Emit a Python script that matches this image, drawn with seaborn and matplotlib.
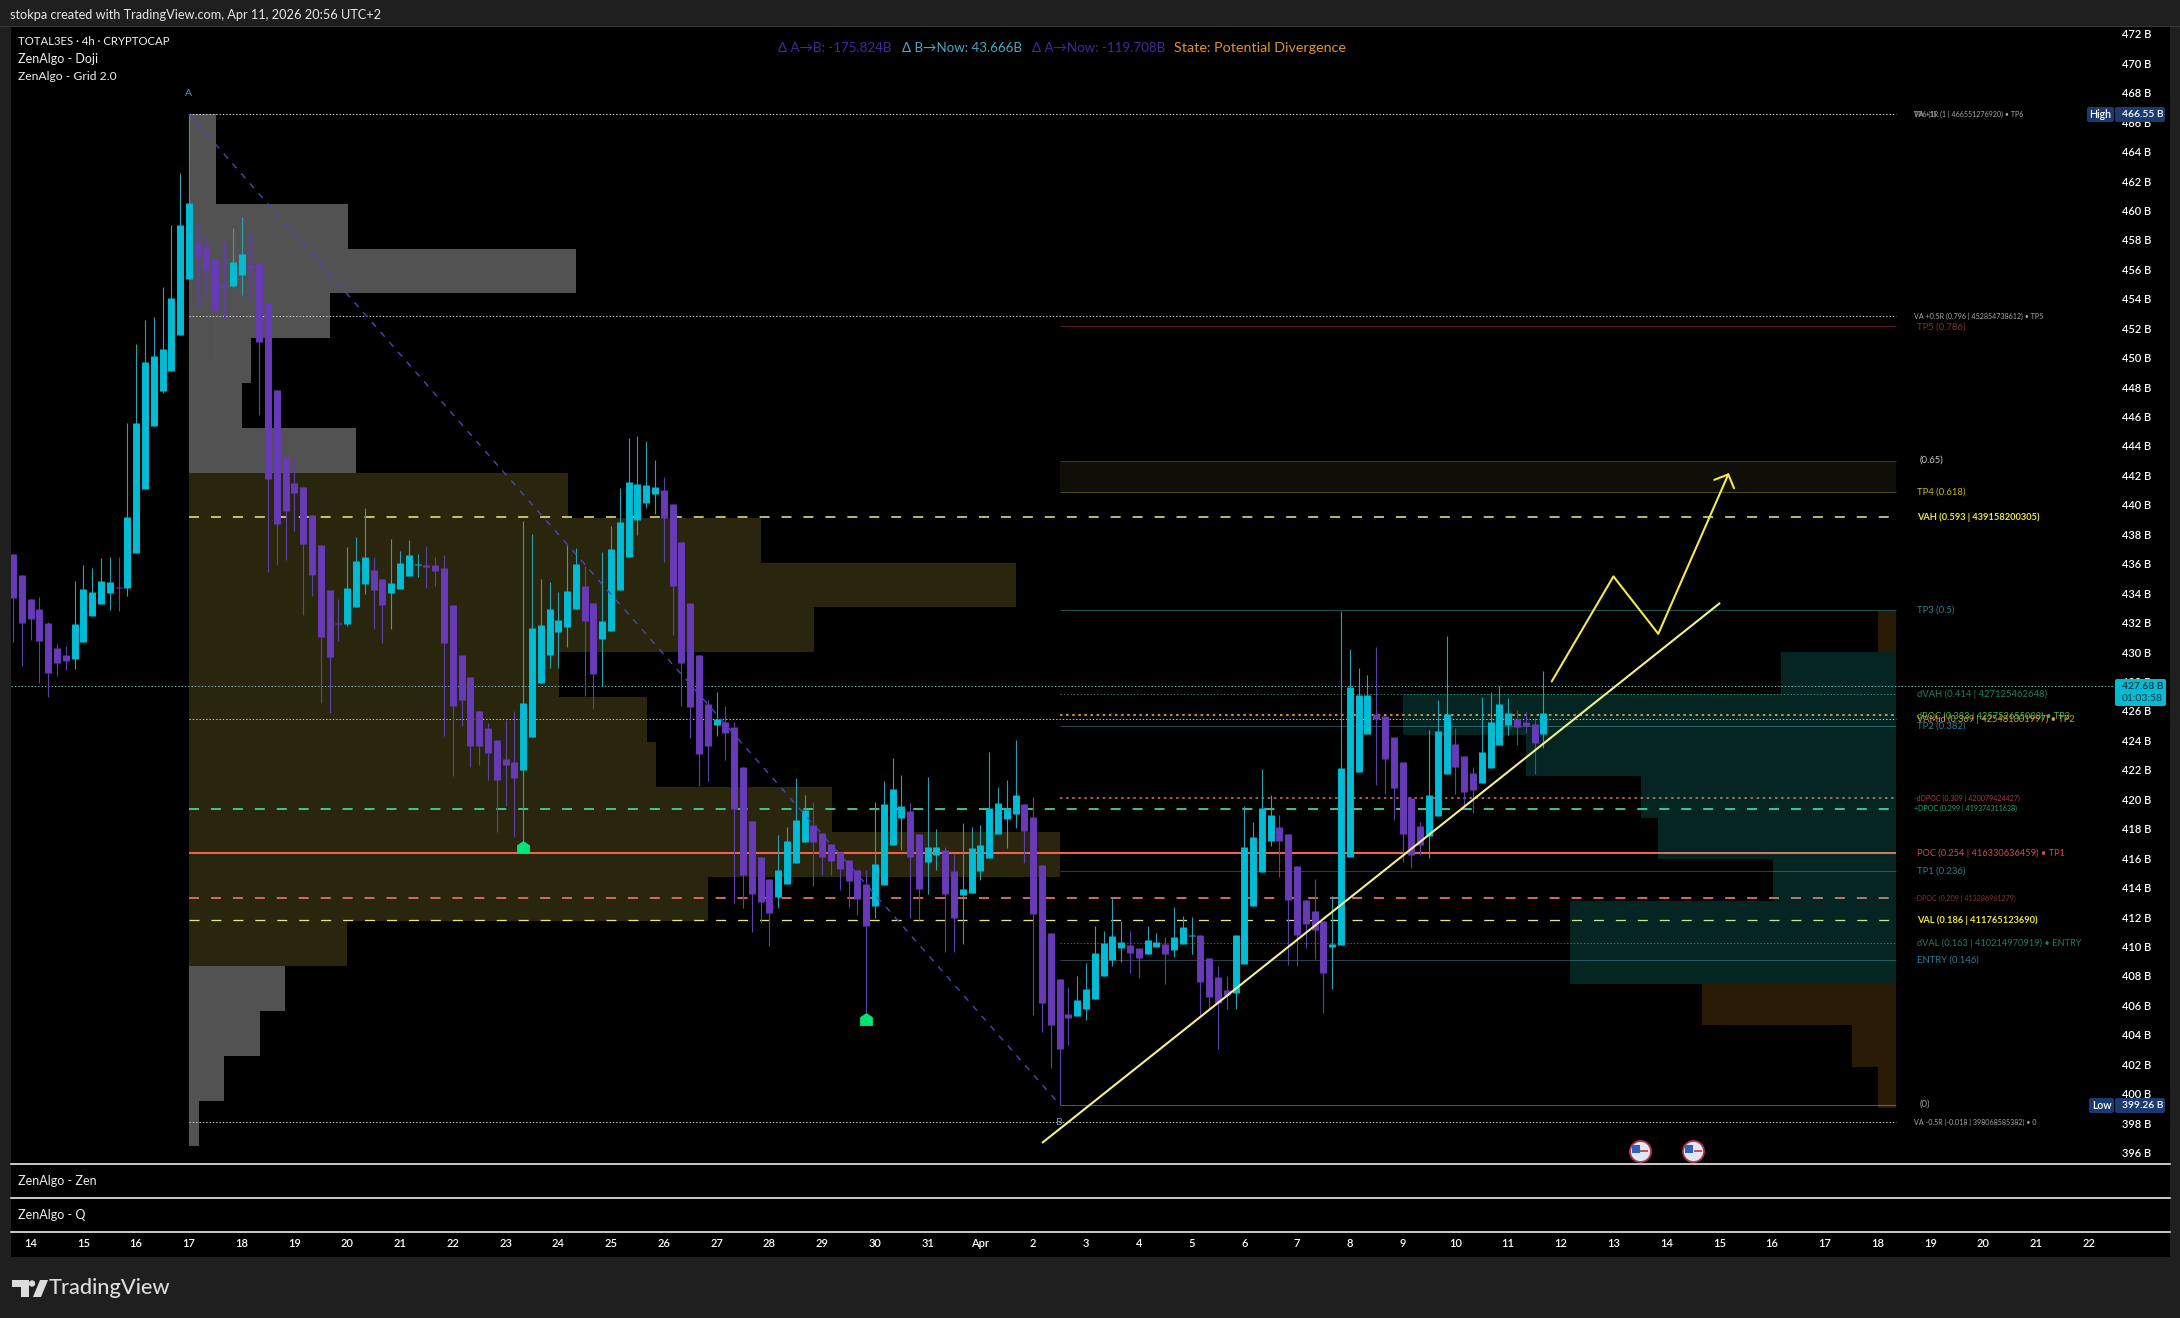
import numpy as np
import pandas as pd
import matplotlib
matplotlib.use("Agg")
import matplotlib.pyplot as plt
from matplotlib.patches import Rectangle, FancyBboxPatch, Polygon, Circle
import seaborn as sns

# ---------------- data (prices in billions, x in 4h candles from 14 Mar 00:00) ----------------
first_candle = -2
opens = [436.67,435.24,433.61,432.93,431.96,430.28,429.81,429.54,430.71,432.46,
         433.27,434.02,434.45,434.36,436.74,441.08,445.37,447.74,449.12,451.55,
         455.33,457.89,457.5,456.69,455.01,454.87,455.62,456.3,456.35,453.7,
         447.81,443.26,441.47,441.22,439.32,437.28,434.22,432.0,431.91,433.07,
         434.63,435.58,434.97,434.02,434.29,435.17,435.92,435.92,435.92,435.72,
         433.2,429.81,428.31,426.0,424.82,424.03,422.72,422.54,421.99,424.25,
         427.91,429.81,431.37,431.71,432.93,434.5,433.34,430.9,431.44,434.22,
         436.47,438.98,440.13,440.74,441.02,440.06,437.46,433.34,429.81,426.48,
         425.05,425.26,424.92,422.2,418.53,416.09,414.59,413.37,414.25,415.68,
         417.1,418.26,417.72,416.97,416.42,415.88,415.2,414.25,412.76,414.18,
         416.9,418.73,419.21,417.65,415.75,416.22,416.56,415.13,413.5,413.64,
         415.13,416.02,417.65,418.67,419.0,419.69,418.8,415.54,410.92,407.8,
         405.42,405.29,405.76,406.44,408.0,409.06,409.91,410.1,409.89,409.5,
         409.99,410.2,409.78,410.2,410.72,410.77,409.21,407.94,407.03,406.87,
         408.82,412.75,415.06,417.17,418.13,417.64,415.48,413.16,412.41,411.76,
         409.99,410.07,416.1,421.82,424.45,425.8,425.64,424.24,422.52,420.08,
         418.18,417.51,418.86,421.72,423.75,422.94,421.8,421.12,422.13,423.69,
         425.02,425.44,425.25,425.1,424.45]
highs = [436.67,435.24,433.61,433.77,432.07,430.56,430.42,434.84,435.92,435.72,
         436.4,436.46,436.46,445.54,450.94,452.57,452.75,454.83,459.02,462.57,
         466.55,459.13,458.34,456.69,457.95,458.81,459.58,458.45,456.35,453.7,
         447.81,443.26,443.05,441.22,439.32,437.28,434.22,433.61,437.14,437.82,
         439.79,436.46,434.97,437.69,436.87,437.62,436.67,437.21,436.46,436.6,
         433.2,429.81,428.31,426.0,425.16,424.03,425.39,426.0,438.91,438.03,
         434.97,434.77,434.09,437.28,437.08,435.85,433.34,436.8,438.57,441.15,
         444.55,444.68,444.34,443.05,441.9,440.06,437.46,433.34,429.81,426.75,
         427.3,426.35,425.28,422.2,418.53,416.09,414.59,417.58,418.1,421.43,
         420.3,419.78,417.72,416.97,416.42,415.88,415.2,415.2,419.8,421.25,
         422.81,421.65,419.73,417.65,421.52,417.99,416.76,416.29,418.39,418.12,
         418.26,423.19,420.84,421.31,424.03,419.69,420.14,415.54,410.92,407.8,
         407.26,408.0,408.89,411.4,411.06,413.32,411.76,411.03,409.89,411.42,
         410.9,410.64,412.67,412.1,412.02,410.77,409.21,408.64,408.0,410.77,
         419.51,418.47,422.08,420.26,418.96,417.64,415.48,413.16,414.57,411.76,
         413.4,432.77,430.22,428.92,428.45,430.32,425.64,424.24,422.52,420.08,
         418.47,424.71,426.71,431.08,424.81,422.94,422.16,426.94,427.28,427.67,
         426.89,426.06,425.93,425.54,428.71]
lows = [430.71,429.06,430.83,427.88,426.98,428.34,428.79,428.86,430.71,432.46,
        433.27,432.86,432.8,433.82,436.74,441.08,445.37,447.63,449.12,451.55,
        455.33,453.36,454.26,449.89,452.57,454.78,454.26,453.9,446.11,435.47,
        435.92,436.26,438.23,432.53,433.82,426.53,425.85,430.76,431.78,433.07,
        433.95,431.57,430.62,431.57,434.29,435.17,435.11,434.36,434.5,424.31,
        421.55,424.99,422.2,422.34,421.31,417.8,419.55,417.47,417.13,424.25,
        427.91,428.93,428.93,430.35,432.93,427.02,426.16,427.7,431.44,434.22,
        436.47,437.96,439.79,439.39,436.13,431.17,426.35,424.17,420.93,421.27,
        424.31,422.68,412.94,412.6,411.01,411.62,410.04,412.64,414.25,415.68,
        417.1,414.12,414.86,414.86,413.84,412.71,412.15,405.47,411.96,414.18,
        416.9,416.56,411.92,411.81,413.57,415.2,409.63,409.63,410.18,413.64,
        414.52,416.02,417.65,416.7,418.05,415.68,405.35,404.2,401.75,399.26,
        403.32,405.29,405.01,406.44,408.0,408.69,408.95,408.2,407.86,409.5,
        409.99,407.42,409.29,410.2,409.47,405.34,405.78,403.05,405.78,405.78,
        408.82,412.75,415.06,416.83,414.75,408.77,408.64,409.89,409.16,405.47,
        407.08,410.07,416.1,421.82,424.45,420.94,420.39,418.6,415.74,415.35,
        416.18,416.02,418.86,421.72,420.34,419.43,419.09,421.12,422.13,423.69,
        424.37,423.72,424.5,421.72,423.46]
closes = [433.64,432.0,432.25,430.76,428.56,429.29,429.42,431.91,434.29,434.09,
          434.84,434.77,434.36,439.18,445.57,449.71,450.12,450.6,454.06,459.02,
          460.51,456.87,455.96,453.24,454.78,456.5,457.05,456.07,451.03,441.76,
          438.71,439.59,440.81,437.33,435.24,431.03,429.69,431.91,434.36,436.19,
          436.46,434.22,433.2,434.7,436.06,436.6,435.97,435.79,435.51,430.6,
          426.35,426.75,423.63,423.63,423.17,421.31,422.33,421.45,426.55,431.64,
          431.85,432.93,432.19,434.16,435.99,432.12,428.52,432.12,437.0,438.84,
          441.56,441.42,441.35,441.22,439.11,434.5,429.27,426.28,423.09,423.63,
          425.42,424.51,419.34,414.86,413.57,413.03,412.28,415.2,417.17,418.6,
          419.28,417.1,416.09,415.81,415.27,414.46,413.23,411.4,415.61,419.69,
          420.7,419.55,416.09,413.91,416.76,416.76,413.57,411.94,413.91,416.7,
          416.9,419.41,419.75,419.41,420.3,417.85,412.21,406.17,404.67,403.05,
          405.15,406.37,407.12,409.56,410.23,410.72,410.3,409.55,409.21,410.43,
          410.3,409.5,410.62,411.32,410.77,407.57,406.56,406.17,406.69,410.77,
          416.75,417.43,419.4,418.94,417.17,413.16,410.77,411.55,411.11,408.2,
          410.2,422.13,427.62,427.1,427.1,425.46,422.76,420.76,417.61,416.23,
          416.86,420.29,424.63,425.8,422.16,420.52,420.6,423.23,425.25,426.48,
          425.85,424.92,424.97,423.8,425.85]

# visible-range volume profile on the left (one row per price bin, length in candles)
left_profile_top = 466.55
left_profile_step = 3.047
left_profile_anchor = 18
left_profile_len = [3.1,3.1,18.1,44,16,7.1,6,19,
                    43.1,65.1,94,71.1,42.1,52.1,53.1,73.1,99,59,18,
                    10.9,8.1,4,1.1]
left_profile_kind = ["out"]*8 + ["va"]*11 + ["out"]*4

# swing-range volume profile on the right
right_profile_top = 432.81
right_profile_step = 2.815
right_profile_anchor = 212.06
right_profile_len = [2,13,56,42,29,27,14,37,37,22,5,2]
right_profile_kind = ["out","va","va","va","va","va","va","va","va","out","out","out"]

tick_prices = list(range(396, 474, 2))
day_labels = ["14","15","16","17","18","19","20","21","22","23","24","25","26","27","28","29","30","31",
              "Apr","2","3","4","5","6","7","8","9","10","11","12","13","14","15","16","17","18","19","20","21","22"]

swing_x = [18, 117]
swing_y = [466.55, 399.26]
trend_x = [115, 192.1]
trend_y = [396.65, 433.34]
path_x = [172.95, 179.97, 185.07, 193.03]
path_y = [428.0, 435.14, 431.24, 442.07]
head_x = [191.44, 193.03, 193.68]
head_y = [441.7, 442.07, 441.13]
signal_x = [56, 95]
signal_y = [416.73, 405.05]
event_x = [183.0, 189.03]
event_y = [396.13, 396.13]

# (price, start candle, colour, width px, style)
levels = [
    (466.55, 18, "#d8d8d8", 1.0, "dot"),
    (452.85, 18, "#cfcfcf", 1.0, "dot"),
    (452.15, 117, "#5a1e20", 1.0, "solid"),
    (443.01, 117, "#3a3a18", 1.0, "solid"),
    (440.89, 117, "#4a4a1e", 1.0, "solid"),
    (439.158, 18, "#f3f08a", 1.5, "dash"),
    (432.87, 117, "#24504f", 1.0, "solid"),
    (427.125, 117, "#2f7f66", 1.0, "dot"),
    (425.75, 117, "#e09a3a", 1.8, "bigdot"),
    (425.48, 18, "#e8c860", 1.0, "dot"),
    (424.97, 117, "#2a4a50", 1.0, "solid"),
    (420.08, 117, "#d0705f", 1.6, "bigdot"),
    (419.37, 18, "#3fd49a", 1.8, "dash"),
    (416.33, 18, "#f2604f", 2.0, "solid"),
    (415.11, 117, "#24403f", 1.0, "solid"),
    (413.29, 18, "#e4706a", 1.8, "dash"),
    (411.765, 18, "#e8e880", 1.3, "dash"),
    (410.21, 117, "#2f6f5f", 1.0, "dot"),
    (409.06, 117, "#2a4048", 1.0, "solid"),
    (399.26, 117, "#555555", 1.0, "solid"),
    (398.07, 18, "#d0d0d0", 1.0, "dot"),
]
last_price = 427.68

# (price, text, colour, font size, weight)
level_labels = [
    (466.55, "TP6 (1)", "#a8a8a8", 5.1, "normal"),
    (466.55, "VA +1R (1 | 466551276920) • TP6", "#a8a8a8", 5.1, "normal"),
    (452.85, "VA +0.5R (0.796 | 452854738612) • TP5", "#a8a8a8", 5.1, "normal"),
    (452.10, "TP5 (0.786)", "#8b2a2c", 6.8, "normal"),
    (443.01, "(0.65)", "#c8c8c8", 6.8, "normal"),
    (440.85, "TP4 (0.618)", "#c9b824", 6.8, "normal"),
    (439.16, "VAH (0.593 | 439158200305)", "#f0e83a", 6.7, "bold"),
    (432.87, "TP3 (0.5)", "#2e7f8c", 6.8, "normal"),
    (427.125, "dVAH (0.414 | 427125462648)", "#1f8068", 6.8, "normal"),
    (425.62, "dPOC (0.383 | 425752655008) • TP2", "#4fb04a", 6.7, "normal"),
    (425.46, "VAMid (0.369 | 425481001997) • TP2", "#e89a20", 6.7, "normal"),
    (424.95, "TP2 (0.382)", "#2e7f9c", 6.8, "normal"),
    (420.08, "-dDPOC (0.309 | 420079424427)", "#b03a3a", 5.1, "normal"),
    (419.37, "+DPOC (0.299 | 419374311638)", "#20a870", 5.1, "normal"),
    (416.33, "POC (0.254 | 416330636459) • TP1", "#d8454a", 6.7, "normal"),
    (415.11, "TP1 (0.236)", "#24808c", 6.8, "normal"),
    (413.29, "-DPOC (0.209 | 413286961279)", "#8c2e34", 5.1, "normal"),
    (411.765, "VAL (0.186 | 411765123690)", "#f0e83a", 6.7, "bold"),
    (410.21, "dVAL (0.163 | 410214970919) • ENTRY", "#1f7a68", 6.7, "normal"),
    (409.06, "ENTRY (0.146)", "#2e7a92", 6.8, "normal"),
    (399.30, "(0)", "#a0a0a0", 6.8, "normal"),
    (398.07, "VA -0.5R (-0.018 | 398068585382) • 0", "#a8a8a8", 5.1, "normal"),
]

# ---------------- geometry ----------------
W, H = 2180, 1318
PX_PER_CANDLE = 8.795
X0_PX = 30.6
PX_PER_B = 14.72


def k_at(px):
    return (px - X0_PX) / PX_PER_CANDLE


def p_at(py):
    return 468 - (py - 92.7) / PX_PER_B


def box(l, t, r, b):
    return [l / W, 1 - b / H, (r - l) / W, (b - t) / H]


sns.set_theme(style="dark", rc={"lines.scale_dashes": False, "axes.grid": False,
                                "figure.facecolor": "#1f1f1f", "savefig.facecolor": "#1f1f1f"})
FONT = ["Lato", "DejaVu Sans"]
plt.rcParams["font.family"] = FONT
plt.rcParams["text.color"] = "white"

fig = plt.figure(figsize=(W / 100, H / 100), dpi=100, facecolor="#1f1f1f")

# chrome behind everything
bg = fig.add_axes([0, 0, 1, 1], zorder=0)
bg.set_xlim(0, W); bg.set_ylim(H, 0); bg.axis("off")
bg.add_patch(Rectangle((11, 27), 2159, 1230, color="black", lw=0))
bg.add_patch(Rectangle((0, 25.5), W, 1.5, color="#383838", lw=0))
bg.text(10, 15, "stokpa created with TradingView.com, Apr 11, 2026 20:56 UTC+2",
        color="#e8e8e8", fontsize=9.2, va="center")

# main pane
ax = fig.add_axes(box(11, 27, 2170, 1164), zorder=2, facecolor="none")

left_mid = [left_profile_top - left_profile_step * (i + .5) for i in range(len(left_profile_len))]
sns.barplot(x=left_profile_len, y=left_mid, hue=left_profile_kind, orient="y", native_scale=True,
            palette={"out": "#525252", "va": "#2a260e"}, saturation=1, width=1, dodge=False,
            left=left_profile_anchor, linewidth=0, legend=False, errorbar=None, ax=ax, zorder=1)

right_mid = [right_profile_top - right_profile_step * (i + .5) for i in range(len(right_profile_len))]
sns.barplot(x=-np.array(right_profile_len, dtype=float), y=right_mid, hue=right_profile_kind, orient="y",
            native_scale=True, palette={"out": "#ffa721", "va": "#1fe6d2"}, saturation=1, width=1, dodge=False,
            left=right_profile_anchor, linewidth=0, alpha=.165, legend=False, errorbar=None, ax=ax, zorder=2.5)

# 0.65 - 0.618 zone
ax.fill_between([117, right_profile_anchor], 440.89, 443.01, color="#0f0f08", lw=0, zorder=1)

DASH = {"solid": "-", "dash": (0, (7.2, 8.6)), "dot": (0, (1.0, 1.4)), "bigdot": (0, (1.8, 2.6))}
for price, start, col, wid, style in levels:
    ax.hlines(price, start, right_profile_anchor, colors=col, linewidth=wid * .72,
              linestyles=DASH[style], zorder=2)
ax.hlines(last_price, k_at(11), k_at(2115), colors="#7fb5b5", linewidth=.72, linestyles=DASH["dot"], zorder=2)

# candles
k = np.arange(first_candle, first_candle + len(opens))
direction = ["up" if c >= o else "down" for o, c in zip(opens, closes)]
wicks = pd.DataFrame({"candle": np.repeat(k, 2), "x": np.repeat(k, 2),
                      "price": np.column_stack([lows, highs]).ravel(), "dir": np.repeat(direction, 2)})
bodies = pd.DataFrame({"candle": np.repeat(k, 2), "x": np.repeat(k, 2),
                       "price": np.column_stack([opens, closes]).ravel(), "dir": np.repeat(direction, 2)})
sns.lineplot(data=wicks, x="x", y="price", hue="dir", units="candle", estimator=None, sort=False,
             palette={"up": "#2e9fb0", "down": "#5d40a8"}, linewidth=.8, legend=False, ax=ax, zorder=3,
             solid_capstyle="butt")
sns.lineplot(data=bodies, x="x", y="price", hue="dir", units="candle", estimator=None, sort=False,
             palette={"up": "#00bcd4", "down": "#673ab7"}, linewidth=5.0, legend=False, ax=ax, zorder=3.2,
             solid_capstyle="butt")

# drawings
sns.lineplot(x=swing_x, y=swing_y, color="#4548bc", linewidth=1.0, linestyle=(0, (4.5, 5)), sort=False,
             estimator=None, ax=ax, zorder=3.5)
sns.lineplot(x=trend_x, y=trend_y, color="#f4f08c", linewidth=1.5, sort=False, estimator=None, ax=ax, zorder=4,
             solid_capstyle="butt")
sns.lineplot(x=path_x, y=path_y, color="#f4e84a", linewidth=1.5, sort=False, estimator=None, ax=ax, zorder=4)
sns.lineplot(x=head_x, y=head_y, color="#f4e84a", linewidth=1.5, sort=False, estimator=None, ax=ax, zorder=4)

house = [(-1, -1), (1, -1), (1, .35), (0, 1), (-1, .35), (-1, -1)]
sns.scatterplot(x=signal_x, y=signal_y, color="#00e676", marker=house, s=85, linewidth=0, ax=ax, zorder=5)

# economic-event flags
sns.scatterplot(x=event_x, y=event_y, color="#dfe8f6", s=230, edgecolor="#b3324a", linewidth=1.3, ax=ax, zorder=5)
sns.scatterplot(x=[v - .45 for v in event_x], y=[v + .12 for v in event_y], color="#2f62b8", s=36, marker="s",
                linewidth=0, ax=ax, zorder=5.1)
sns.scatterplot(x=[v + .5 for v in event_x], y=event_y, color="#c8323c", s=34, marker="_", linewidth=1.2,
                ax=ax, zorder=5.1)

for price, text, col, size, weight in level_labels:
    small = size < 6
    shift = 3 if text.startswith("(") else 0
    ax.text(k_at((1914 if small else 1917) + shift), price, text, color=col, fontsize=size, fontweight=weight,
            va="center", ha="left", zorder=6)

ax.text(18, p_at(93), "A", color="#4aa3ad", fontsize=7.5, ha="center", va="center", zorder=6)
ax.text(117, p_at(1122.7), "B", color="#4aa3ad", fontsize=7.5, ha="center", va="center", zorder=6)

ax.set_xlim(k_at(11), k_at(2170))
ax.set_ylim(p_at(1164), p_at(27))
ax.set_xlabel(""); ax.set_ylabel("")
ax.set_xticks([])
ax.yaxis.tick_right()
ax.set_yticks(tick_prices)
ax.set_yticklabels([f"{v} B" for v in tick_prices], color="white", fontsize=8, fontweight="semibold", ha="left")
ax.tick_params(axis="y", length=0, pad=-(2170 - 2122) * .72)
for s in ax.spines.values():
    s.set_visible(False)

# lower panes
zen = fig.add_axes(box(11, 1164, 2170, 1198), zorder=2, facecolor="none")
qq = fig.add_axes(box(11, 1198, 2170, 1232), zorder=2, facecolor="none")
for pane, name in ((zen, "ZenAlgo - Zen"), (qq, "ZenAlgo - Q")):
    pane.set_xlim(ax.get_xlim()); pane.set_yticks([]); pane.set_xticks([])
    for side, s in pane.spines.items():
        s.set_visible(side == "top")
    pane.spines["top"].set_color("white"); pane.spines["top"].set_linewidth(1.1)
    pane.text(7 / 2159, .5, name, transform=pane.transAxes, color="#f0f0f0", fontsize=9, va="center")
qq.spines["bottom"].set_visible(True); qq.spines["bottom"].set_color("white"); qq.spines["bottom"].set_linewidth(1.1)
qq.set_xticks([6 * i for i in range(len(day_labels))])
qq.set_xticklabels(day_labels, color="white", fontsize=8, fontweight="semibold")
qq.tick_params(axis="x", length=0, pad=4)

# overlay: legend, top status, tags, logo
fg = fig.add_axes([0, 0, 1, 1], zorder=5, facecolor="none")
fg.set_xlim(0, W); fg.set_ylim(H, 0); fg.axis("off")
for y, t, fs in ((41.5, "TOTAL3ES · 4h · CRYPTOCAP", 8.2), (59, "ZenAlgo - Doji", 9), (76, "ZenAlgo - Grid 2.0", 8.7)):
    fg.text(18, y, t, color="#f0f0f0", fontsize=fs, va="center")
for x, t, c, fs in ((778, "Δ A→B: -175.824B", "#45289c", 9.6), (902, "Δ B→Now: 43.666B", "#4aa8c4", 9.6),
                    (1032, "Δ A→Now: -119.708B", "#45289c", 9.6), (1174, "State: Potential Divergence", "#e2942a", 10.3)):
    fg.text(x, 48.5, t, color=c, fontsize=fs, va="center")


def tag(l, t, r, b, col):
    fg.add_patch(FancyBboxPatch((l + 1, t + 1), r - l - 2, b - t - 2, boxstyle="round,pad=1,rounding_size=2",
                                fc=col, ec="none", lw=0))


tag(2087, 107, 2114, 122, "#1a3a70"); tag(2115, 107, 2165, 122, "#1a3a70")
tag(2089, 1098, 2114, 1113, "#1a3a70"); tag(2115, 1098, 2165, 1113, "#1a3a70")
fg.text(2100.5, 114, "High", color="white", fontsize=7.6, fontweight="semibold", ha="center", va="center")
fg.text(2122, 114.5, "466.55 B", color="white", fontsize=7.4, fontweight="semibold", va="center")
fg.text(2101.5, 1105.5, "Low", color="white", fontsize=7.6, fontweight="semibold", ha="center", va="center")
fg.text(2122, 1105.5, "399.26 B", color="white", fontsize=7.4, fontweight="semibold", va="center")
tag(2115, 679, 2166, 706, "#00bcd4")
fg.text(2122, 686.5, "427.68 B", color="#10323a", fontsize=7.4, fontweight="semibold", va="center")
fg.text(2122, 698.5, "01:03:58", color="#10323a", fontsize=7.4, va="center")

fg.add_patch(Polygon([(12, 1280), (29, 1280), (29, 1297), (21, 1297), (21, 1287), (12, 1287)], color="#dcdcdc", lw=0))
fg.add_patch(Circle((32, 1283.5), 3.2, color="#dcdcdc", lw=0))
fg.add_patch(Polygon([(33, 1297), (40, 1280), (48, 1280), (41, 1297)], color="#dcdcdc", lw=0))
fg.text(49, 1288, "TradingView", color="#dcdcdc", fontsize=15.7, fontweight="medium", va="center")

fig.savefig("out.png", dpi=100, facecolor=fig.get_facecolor())
